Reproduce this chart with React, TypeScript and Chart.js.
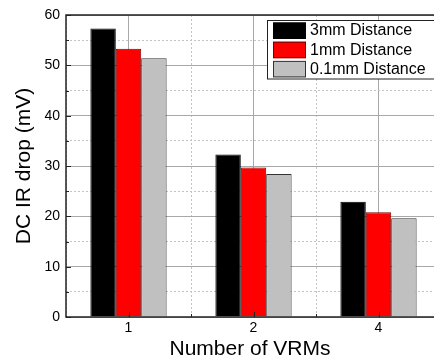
import React, { useEffect, useRef } from "react";
import { Chart, registerables } from "chart.js";

Chart.register(...registerables);

const categories = ["1", "2", "4"];
const seriesLabels = ["3mm Distance", "1mm Distance", "0.1mm Distance"];
const series3mm = [57.3, 32.3, 22.9];
const series1mm = [53.3, 29.7, 20.8];
const series01mm = [51.4, 28.4, 19.6];
const yTicks = [0, 5, 10, 15, 20, 25, 30, 35, 40, 45, 50, 55, 60];
const xTickPositions = [-0.5, 0, 0.5, 1, 1.5, 2];

const FONT = "'Liberation Sans', Arial, sans-serif";

const framePlugin = {
  id: "frameAndTicks",
  afterDraw(chart: any) {
    const { ctx, chartArea } = chart;
    const { left, top, right, bottom } = chartArea;
    const xs = chart.scales.x;
    const ys = chart.scales.y;
    ctx.save();
    // inward tick marks
    ctx.strokeStyle = "#222";
    ctx.lineWidth = 1;
    ys.ticks.forEach((t: any) => {
      const y = Math.round(ys.getPixelForValue(t.value)) + 0.5;
      const len = t.value % 10 === 0 ? 5 : 3;
      ctx.beginPath();
      ctx.moveTo(left, y);
      ctx.lineTo(left + len, y);
      ctx.stroke();
    });
    xs.ticks.forEach((t: any) => {
      if (t.value < 0) return;
      const x = Math.round(xs.getPixelForValue(t.value)) + 0.5;
      const len = Number.isInteger(t.value) ? 5 : 3;
      ctx.beginPath();
      ctx.moveTo(x, bottom);
      ctx.lineTo(x, bottom - len);
      ctx.stroke();
    });
    // frame
    ctx.strokeStyle = "#222";
    ctx.lineWidth = 1.5;
    ctx.strokeRect(left, top, right - left + 20, bottom - top);
    // legend
    const lx = 267.5;
    const ly = 20.5;
    const lw = 180;
    const lh = 58.5;
    ctx.fillStyle = "#fff";
    ctx.fillRect(lx, ly, lw, lh);
    ctx.strokeStyle = "#222";
    ctx.lineWidth = 1;
    ctx.strokeRect(lx, ly, lw, lh);
    chart.data.datasets.forEach((ds: any, i: number) => {
      const sy = 22.5 + i * 19.2;
      ctx.fillStyle = ds.backgroundColor;
      ctx.fillRect(273, sy, 33, 16.5);
      ctx.strokeStyle = ds.borderColor;
      ctx.lineWidth = 1;
      ctx.strokeRect(273.5, sy + 0.5, 32, 15.5);
      ctx.fillStyle = "#000";
      ctx.font = `16px ${FONT}`;
      ctx.textBaseline = "middle";
      ctx.textAlign = "left";
      ctx.fillText(ds.label, 310, sy + 8.5);
    });
    ctx.restore();
  },
};

export default function App() {
  const ref = useRef<HTMLCanvasElement | null>(null);
  useEffect(() => {
    if (!ref.current) return;
    const values = [series3mm, series1mm, series01mm];
    const fills = ["#000000", "#ff0000", "#c0c0c0"];
    const borders = ["#000000", "#7a0000", "#333333"];
    const chart = new Chart(ref.current, {
      type: "bar",
      data: {
        datasets: values.map((vals, i) => ({
          label: seriesLabels[i],
          data: vals.map((v, j) => ({ x: j, y: v })),
          backgroundColor: fills[i],
          borderColor: borders[i],
          borderWidth: 1,
          barPercentage: 1,
          categoryPercentage: 1.22,
        })),
      },
      options: {
        animation: false,
        responsive: false,
        layout: { padding: { top: 15, right: 0, left: 0, bottom: 0 } },
        plugins: { legend: { display: false }, tooltip: { enabled: false } },
        scales: {
          x: {
            type: "linear",
            offset: false,
            bounds: "data",
            min: -0.5,
            max: -0.5 + 368 / 125,
            afterBuildTicks: (scale: any) => {
              scale.ticks = xTickPositions.map((v) => ({ value: v }));
            },
            afterFit: (scale: any) => {
              scale.height = 43;
              scale.paddingLeft = 0;
              scale.paddingRight = 0;
            },
            ticks: {
              padding: 3,
              color: "#000",
              font: { family: FONT, size: 14 },
              maxRotation: 0,
              autoSkip: false,
              callback: (v: any) =>
                Number.isInteger(v) && v >= 0 ? categories[v] : "",
            },
            grid: {
              offset: false,
              drawTicks: false,
              color: (c: any) =>
                c.tick && Number.isInteger(c.tick.value) ? "#a8a8a8" : "#c4c4c4",
              lineWidth: 1,
            },
            border: {
              display: false,
              dash: (c: any) =>
                c.tick && !Number.isInteger(c.tick.value) ? [2, 2] : [],
            },
            title: {
              display: true,
              text: "Number of VRMs",
              color: "#000",
              font: { family: FONT, size: 21, lineHeight: 1 },
              padding: { top: 0, bottom: 0 },
            },
          },
          y: {
            min: 0,
            max: 60,
            afterBuildTicks: (scale: any) => {
              scale.ticks = yTicks.map((v) => ({ value: v }));
            },
            afterFit: (scale: any) => {
              scale.width = 66;
            },
            ticks: {
              padding: 6,
              color: "#000",
              font: { family: FONT, size: 14 },
              autoSkip: false,
              callback: (v: any) => (v % 10 === 0 ? String(v) : ""),
            },
            grid: {
              drawTicks: false,
              color: (c: any) =>
                c.tick && c.tick.value % 10 === 0 ? "#a8a8a8" : "#c4c4c4",
              lineWidth: 1,
            },
            border: {
              display: false,
              dash: (c: any) =>
                c.tick && c.tick.value % 10 !== 0 ? [2, 2] : [],
            },
            title: {
              display: true,
              text: "DC IR drop (mV)",
              color: "#000",
              font: { family: FONT, size: 21, lineHeight: 1 },
              padding: { top: 14, bottom: 0 },
            },
          },
        },
      },
      plugins: [framePlugin],
    } as any);
    return () => chart.destroy();
  }, []);
  return (
    <canvas
      ref={ref}
      width={434}
      height={360}
      style={{ position: "absolute", left: 0, top: 0, width: 434, height: 360 }}
    />
  );
}
